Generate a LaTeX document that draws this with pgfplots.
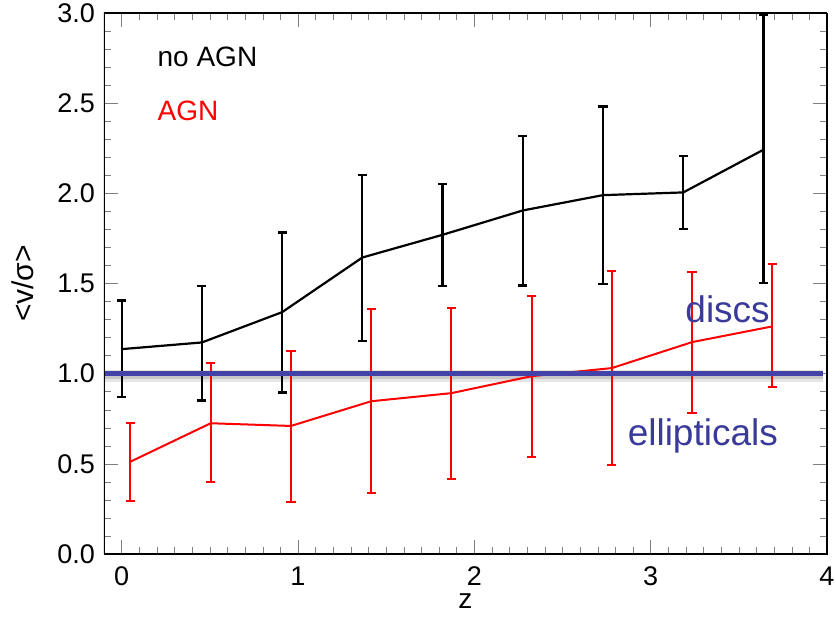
\documentclass[border=0pt]{standalone}
\usepackage{fontspec}
\setmainfont{Liberation Sans}
\usepackage{pgfplots}
\usepackage{pgfplotstable}
\pgfplotsset{compat=1.18}
\definecolor{lineblue}{RGB}{66,66,168}
\definecolor{textblue}{RGB}{58,58,155}

\pgfplotstableread{
x      y      top    bot
0.000  1.136  1.406  0.870
0.455  1.173  1.487  0.851
0.910  1.341  1.783  0.895
1.365  1.644  2.103  1.182
1.820  1.770  2.052  1.487
2.275  1.905  2.316  1.489
2.730  1.990  2.482  1.497
3.185  2.005  2.205  1.802
3.640  2.242  2.987  1.502
}\noagn

\pgfplotstableread{
x      y      top    bot
0.050  0.512  0.729  0.296
0.505  0.725  1.060  0.398
0.960  0.710  1.128  0.289
1.415  0.847  1.358  0.340
1.870  0.892  1.365  0.416
2.325  0.986  1.432  0.537
2.780  1.031  1.567  0.494
3.235  1.175  1.561  0.784
3.690  1.262  1.608  0.925
}\agn

\begin{document}
\begin{tikzpicture}
\begin{axis}[
  at={(0,0)}, anchor=south west,
  scale only axis,
  width=361.5pt, height=270.5pt,
  xmin=-0.1, xmax=4, ymin=0, ymax=3,
  xtick={0,1,2,3,4},
  ytick={0,0.5,1,1.5,2,2.5,3},
  minor x tick num=9,
  minor y tick num=4,
  tick align=inside,
  major tick length=7pt,
  minor tick length=3.5pt,
  tick label style={font=\fontsize{13.5}{15}\selectfont},
  /pgf/number format/assume math mode=true,
  /pgf/number format/fixed,
  /pgf/number format/fixed zerofill,
  /pgf/number format/precision=1,
  xticklabel={\pgfmathprintnumber[precision=0,fixed zerofill=false]{\tick}},
  xticklabel style={yshift=-3pt},
  yticklabel style={xshift=-1pt},
  xlabel={z},
  ylabel={<v/σ>},
  xlabel style={font=\fontsize{14}{15}\selectfont, yshift=3pt},
  ylabel style={font=\fontsize{15}{16}\selectfont, yshift=5pt},
]
\addplot[black!10, line width=6pt, forget plot] coordinates {(-0.1,0.985) (3.98,0.985)};
\addplot[black!22, line width=4pt, forget plot] coordinates {(-0.1,0.99) (3.98,0.99)};
\addplot[black, line width=1.1pt,
  error bars/.cd, y dir=both, y explicit,
  error bar style={line width=1.1pt},
  error mark options={rotate=90, line width=1.1pt, mark size=2.3pt}]
  table[x=x, y=y, y error plus expr=\thisrow{top}-\thisrow{y}, y error minus expr=\thisrow{y}-\thisrow{bot}] {\noagn};
\addplot[red, line width=1pt,
  error bars/.cd, y dir=both, y explicit,
  error bar style={line width=1pt},
  error mark options={rotate=90, line width=1pt, mark size=2.3pt}]
  table[x=x, y=y, y error plus expr=\thisrow{top}-\thisrow{y}, y error minus expr=\thisrow{y}-\thisrow{bot}] {\agn};
\addplot[lineblue, line width=2.8pt] coordinates {(-0.1,1.0) (3.98,1.0)};
\draw[line width=1.1pt] (rel axis cs:0,0) rectangle (rel axis cs:1,1);
\node[anchor=base west, font=\fontsize{14}{16}\selectfont, black, inner sep=0pt] at (axis cs:0.202,2.704) {no AGN};
\node[anchor=base west, font=\fontsize{14}{16}\selectfont, red, inner sep=0pt] at (axis cs:0.202,2.405) {AGN};
\node[anchor=base west, font=\fontsize{18.5}{20}\selectfont, textblue, inner sep=0pt] at (axis cs:3.195,1.284) {discs};
\node[anchor=base west, font=\fontsize{18.5}{20}\selectfont, textblue, inner sep=0pt] at (axis cs:2.868,0.601) {ellipticals};
\end{axis}
\pgfresetboundingbox
\path[use as bounding box] (-52pt,-35.5pt) rectangle (366pt,277pt);
\end{tikzpicture}
\end{document}
